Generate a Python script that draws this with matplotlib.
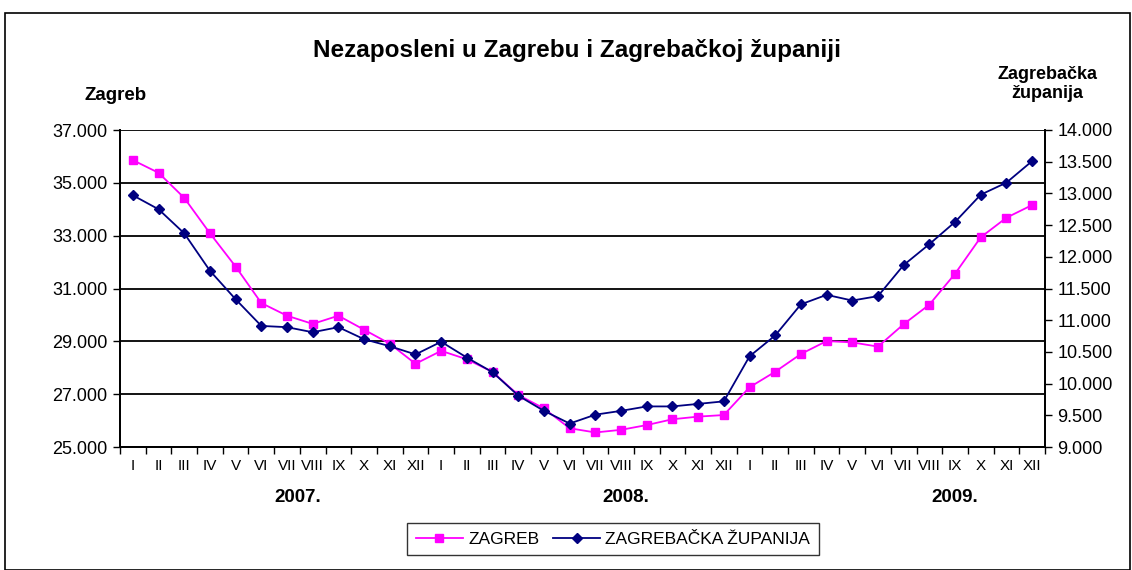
import matplotlib
matplotlib.use("Agg")
import matplotlib.pyplot as plt
import matplotlib.transforms as mtransforms
from matplotlib.patches import Rectangle
from matplotlib.lines import Line2D

plt.rcParams['font.family'] = ['Liberation Sans', 'DejaVu Sans']

months = ["I", "II", "III", "IV", "V", "VI", "VII", "VIII", "IX", "X", "XI", "XII"]
years = ["2007.", "2008.", "2009."]
month_labels = months * 3

zagreb = [35860, 35380, 34430, 33090, 31830, 30450, 29970, 29660, 29970, 29440, 28910, 28150,
          28640, 28320, 27840, 26970, 26460, 25710, 25550, 25650, 25830, 26050, 26150, 26210,
          27260, 27850, 28520, 29010, 28960, 28800, 29650, 30390, 31560, 32940, 33680, 34160]
zupanija = [12970, 12750, 12370, 11780, 11330, 10910, 10890, 10810, 10890, 10700, 10590, 10460,
            10660, 10410, 10180, 9810, 9570, 9370, 9510, 9570, 9640, 9640, 9680, 9720,
            10430, 10760, 11250, 11400, 11310, 11380, 11870, 12200, 12550, 12980, 13170, 13510]

left_ticks = [25000, 27000, 29000, 31000, 33000, 35000, 37000]
right_ticks = [9000, 9500, 10000, 10500, 11000, 11500, 12000, 12500, 13000, 13500, 14000]

def fmt(v):
    return f"{v:,}".replace(",", ".")

fig = plt.figure(figsize=(11.32, 5.70), dpi=100)
fig.patches.append(Rectangle((5/1132, 0.5/570), 1125/1132, 557/570, transform=fig.transFigure,
                             fill=False, edgecolor='black', linewidth=1.2))

ax = fig.add_axes([120/1132, 1-447/570, 925/1132, 317/570])
ax2 = ax.twinx()

n = len(zagreb)
x = list(range(n))
ax.plot(x, zagreb, color='#FF00FF', marker='s', markersize=6, linewidth=1.3, zorder=3)
ax2.plot(x, zupanija, color='#000080', marker='D', markersize=5.5, linewidth=1.3, zorder=3)

ax.set_xlim(-0.5, n - 0.5)
ax.set_ylim(25000, 37000)
ax2.set_ylim(9000, 14000)

ax.set_yticks(left_ticks)
ax.set_yticklabels([fmt(v) for v in left_ticks], fontsize=13)
ax2.set_yticks(right_ticks)
ax2.set_yticklabels([fmt(v) for v in right_ticks], fontsize=13)

ax.set_xticks(x)
ax.set_xticklabels(month_labels, fontsize=11)
ax.set_xticks([i - 0.5 for i in range(n + 1)], minor=True)
ax.tick_params(axis='x', which='major', length=0, pad=9)
ax.tick_params(axis='x', which='minor', length=5, width=1, direction='out')
ax.tick_params(axis='y', length=5, width=1, direction='out', pad=4)
ax2.tick_params(axis='y', length=5, width=1, direction='out', pad=4)

ax.grid(axis='y', color='black', linewidth=1.3)
ax.set_axisbelow(True)
for s in ['top']:
    ax.spines[s].set_visible(False)
    ax2.spines[s].set_visible(False)
for a in (ax, ax2):
    for s in ['left', 'right', 'bottom']:
        a.spines[s].set_linewidth(1.3)

trans = mtransforms.blended_transform_factory(ax.transData, fig.transFigure)
for i, yl in enumerate(years):
    ax.text(6.4 + 12.8 * i, 1 - 498/570, yl, transform=trans, ha='center', va='center',
            fontsize=13.5, fontweight='bold')

fig.text(577/1132, 1 - 50/570, "Nezaposleni u Zagrebu i Zagrebačkoj županiji", ha='center', va='center',
         fontsize=17.5, fontweight='bold')
fig.text(116/1132, 1 - 96/570, "Zagreb", ha='center', va='center', fontsize=13.5, fontweight='bold')
fig.text(1047/1132, 1 - 84/570, "Zagrebačka\nžupanija", ha='center', va='center', fontsize=13,
         fontweight='bold', linespacing=1.2)

handles = [Line2D([], [], color='#FF00FF', marker='s', markersize=6, linewidth=1.3),
           Line2D([], [], color='#000080', marker='D', markersize=5.5, linewidth=1.3)]
leg = fig.legend(handles, ["ZAGREB", "ZAGREBAČKA ŽUPANIJA"], loc='center', ncol=2,
                 bbox_to_anchor=(613/1132, 1 - 539/570), fontsize=12.5, frameon=True, fancybox=False,
                 edgecolor='black', handlelength=2.7, handletextpad=0.3, columnspacing=0.8,
                 borderpad=0.5, borderaxespad=0)
leg.get_frame().set_linewidth(1.0)

fig.savefig("out.png", dpi=100)
